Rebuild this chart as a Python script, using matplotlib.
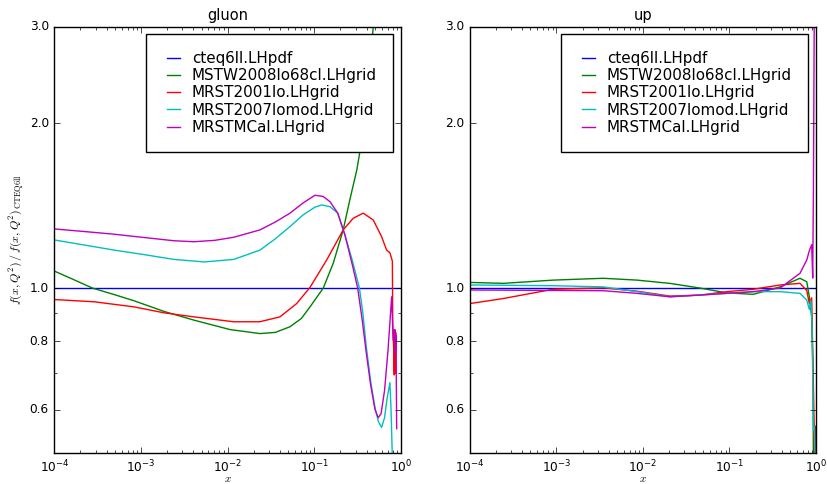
import matplotlib
matplotlib.use('Agg')
import matplotlib.pyplot as plt
import numpy as np

plt.style.use('classic')
plt.rcParams['mathtext.fontset'] = 'cm'

labels = ['cteq6ll.LHpdf', 'MSTW2008lo68cl.LHgrid', 'MRST2001lo.LHgrid',
          'MRST2007lomod.LHgrid', 'MRSTMCal.LHgrid']
colors = ['b', 'g', 'r', 'c', 'm']

# ---- gluon ratios (x given as log10 x) ----
g_ref_lx = [-4.0, 0.0]
g_ref_y = [1.0, 1.0]

g_mstw_lx = [-4.0, -3.8, -3.56, -3.3, -3.08, -2.73, -2.39, -1.973, -1.627, -1.45,
             -1.281, -1.15, -1.05, -0.897, -0.782, -0.667, -0.59, -0.51, -0.47,
             -0.40, -0.32, -0.28]
g_mstw_y = [1.074, 1.04, 1.0, 0.972, 0.948, 0.906, 0.874, 0.84, 0.826, 0.83,
            0.85, 0.88, 0.924, 1.0, 1.11, 1.277, 1.45, 1.643, 1.79,
            2.18, 3.0, 3.4]

g_mrst01_lx = [-4.0, -3.54, -3.08, -2.73, -2.39, -1.93, -1.63, -1.397, -1.204, -1.05,
               -0.858, -0.667, -0.551, -0.436, -0.32, -0.224, -0.166, -0.128, -0.109,
               -0.1, -0.095, -0.085, -0.078, -0.072, -0.066, -0.062, -0.059]
g_mrst01_y = [0.953, 0.944, 0.924, 0.901, 0.886, 0.868, 0.868, 0.886, 0.937, 1.003,
              1.125, 1.277, 1.341, 1.37, 1.331, 1.241, 1.173, 1.16, 1.133,
              1.12, 0.85, 0.78, 0.694, 0.84, 0.70, 0.83, 0.70]

g_mrst07_lx = [-4.0, -3.65, -3.31, -2.95, -2.62, -2.27, -1.93, -1.627, -1.45, -1.281,
               -1.13, -0.993, -0.916, -0.82, -0.73, -0.647, -0.56, -0.48, -0.44,
               -0.40, -0.35, -0.30, -0.26, -0.224, -0.19, -0.16, -0.128, -0.115, -0.1]
g_mrst07_y = [1.224, 1.198, 1.173, 1.15, 1.128, 1.116, 1.128, 1.173, 1.23, 1.295,
              1.36, 1.405, 1.418, 1.408, 1.37, 1.25, 1.12, 1.0, 0.90,
              0.78, 0.675, 0.605, 0.57, 0.557, 0.58, 0.63, 0.672, 0.6, 0.49]

g_mcal_lx = [-4.0, -3.65, -3.31, -2.95, -2.62, -2.39, -2.15, -1.93, -1.627, -1.45,
             -1.281, -1.13, -0.993, -0.9, -0.82, -0.73, -0.647, -0.56, -0.50, -0.45,
             -0.40, -0.35, -0.30, -0.263, -0.23, -0.19, -0.15, -0.125, -0.108, -0.09,
             -0.075, -0.065, -0.058, -0.05]
g_mcal_y = [1.282, 1.268, 1.254, 1.236, 1.22, 1.215, 1.222, 1.238, 1.277, 1.32,
            1.37, 1.43, 1.477, 1.47, 1.438, 1.37, 1.25, 1.10, 1.0, 0.88,
            0.76, 0.665, 0.60, 0.58, 0.59, 0.65, 0.77, 0.88, 0.964, 0.803,
            0.84, 0.76, 0.82, 0.554]

# ---- up ratios ----
u_ref_lx = [-4.0, 0.0]
u_ref_y = [1.0, 1.0]

u_mstw_lx = [-4.0, -3.615, -3.037, -2.46, -2.07, -1.69, -1.34, -1.032, -0.725, -0.416,
             -0.185, -0.107, -0.077, -0.05, -0.035, -0.03]
u_mstw_y = [1.024, 1.02, 1.034, 1.042, 1.034, 1.02, 1.0, 0.98, 0.974, 1.005,
            1.042, 1.027, 0.964, 0.886, 0.7, 0.48]

u_mrst01_lx = [-4.0, -3.615, -3.037, -2.46, -2.07, -1.69, -1.34, -1.032, -0.725, -0.416,
               -0.185, -0.107, -0.077, -0.05, -0.04, -0.02, -0.015, -0.01, -0.005]
u_mrst01_y = [0.937, 0.957, 0.995, 1.001, 0.987, 0.967, 0.971, 0.985, 0.995, 1.013,
              1.02, 0.99, 0.937, 0.96, 0.8, 0.55, 0.48, 0.56, 0.48]

u_mrst07_lx = [-4.0, -3.037, -2.46, -2.07, -1.69, -1.34, -1.032, -0.725, -0.416,
               -0.185, -0.107, -0.077, -0.06, -0.045, -0.03, -0.02, -0.01]
u_mrst07_y = [1.013, 1.01, 1.005, 0.985, 0.964, 0.971, 0.978, 0.985, 0.985,
              0.978, 0.951, 0.914, 0.95, 0.85, 0.55, 0.56, 0.48]

u_mcal_lx = [-4.0, -3.037, -2.46, -2.07, -1.69, -1.34, -1.032, -0.725, -0.416,
             -0.185, -0.107, -0.077, -0.05, -0.038, -0.03, -0.02]
u_mcal_y = [0.992, 0.99, 0.989, 0.978, 0.964, 0.971, 0.978, 0.985, 1.0,
            1.064, 1.125, 1.17, 1.2, 1.043, 1.5, 3.2]

panels = [
    ('gluon', [(g_ref_lx, g_ref_y), (g_mstw_lx, g_mstw_y), (g_mrst01_lx, g_mrst01_y),
               (g_mrst07_lx, g_mrst07_y), (g_mcal_lx, g_mcal_y)]),
    ('up', [(u_ref_lx, u_ref_y), (u_mstw_lx, u_mstw_y), (u_mrst01_lx, u_mrst01_y),
            (u_mrst07_lx, u_mrst07_y), (u_mcal_lx, u_mcal_y)]),
]

fig = plt.figure(figsize=(8.27, 4.84), dpi=100, facecolor='white')
boxes = [[0.0657, 0.064, 0.4192, 0.881], [0.5683, 0.064, 0.4184, 0.881]]

for k, (name, series) in enumerate(panels):
    ax = fig.add_axes(boxes[k])
    for (lx, y), lab, col in zip(series, labels, colors):
        ax.plot(10.0 ** np.array(lx), y, color=col, lw=1.0, label=lab)
    ax.set_xscale('log')
    ax.set_yscale('log')
    ax.set_xlim(1e-4, 1.0)
    ax.set_ylim(0.5, 3.0)
    ax.set_yticks([0.6, 0.8, 1.0, 2.0, 3.0])
    ax.set_yticklabels(['0.6', '0.8', '1.0', '2.0', '3.0'])
    ax.set_yticks([0.7, 0.9], minor=True)
    ax.yaxis.set_minor_formatter(matplotlib.ticker.NullFormatter())
    ax.tick_params(labelsize=8.7)
    ax.set_title(name, fontsize=10.5)
    ax.set_xlabel('$x$', fontsize=8, labelpad=-1)
    if k == 0:
        ax.set_ylabel(r'$f(x,Q^2)\,/\,f(x,Q^2)_{\rm CTEQ6ll}$', fontsize=8.6, labelpad=2)
    ax.legend(loc='upper right', fontsize=10.9, handlelength=1.45, handletextpad=0.5,
              borderpad=1.1, labelspacing=0.15, fancybox=False)

fig.savefig('out.png', dpi=100, facecolor='white')
